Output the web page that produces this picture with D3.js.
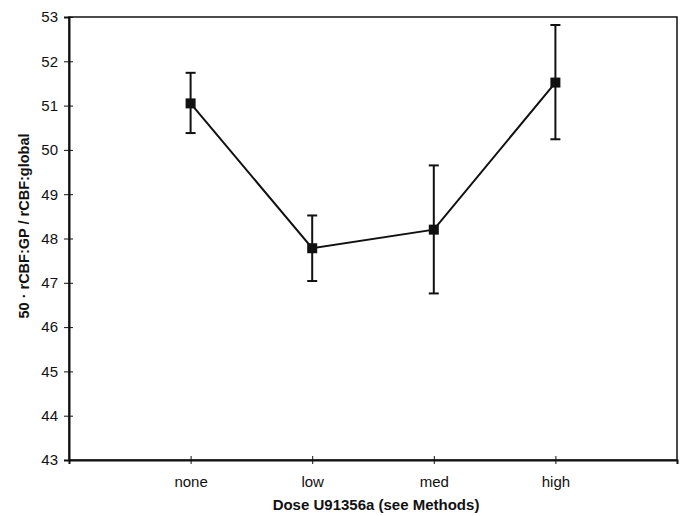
<!DOCTYPE html>
<html>
<head>
<meta charset="utf-8">
<script src="https://cdn.jsdelivr.net/npm/d3@7"></script>
<style>
  body { margin: 0; background: #fff; }
  text { font-family: "Liberation Sans", Arial, sans-serif; fill: #111; }
</style>
</head>
<body>
<div id="chart"></div>
<script>
// values
const doses = ["none", "low", "med", "high"];
const means = [51.05, 47.78, 48.2, 51.52];
const upper = [51.74, 48.52, 49.65, 52.82];
const lower = [50.38, 47.04, 46.76, 50.24];
const yTicks = [43, 44, 45, 46, 47, 48, 49, 50, 51, 52, 53];

const width = 686, height = 516;
const margin = { top: 17, right: 9, bottom: 56, left: 69 };

const svg = d3.select("#chart").append("svg")
    .attr("width", width)
    .attr("height", height);

// category slots 1..4 inside a 0..5 axis, like the original
const x = d3.scaleLinear()
    .domain([0, doses.length + 1])
    .range([margin.left, width - margin.right]);

const y = d3.scaleLinear()
    .domain([43, 53])
    .range([height - margin.bottom, margin.top]);

// plot frame
svg.append("rect")
    .attr("x", margin.left)
    .attr("y", margin.top)
    .attr("width", width - margin.left - margin.right)
    .attr("height", height - margin.top - margin.bottom)
    .attr("fill", "none")
    .attr("stroke", "#111")
    .attr("stroke-width", 1.5);

// y axis
const yAxis = svg.append("g")
    .attr("transform", `translate(${margin.left},0)`)
    .call(d3.axisLeft(y).tickValues(yTicks).tickSize(5).tickPadding(6).tickFormat(d3.format("d")));
yAxis.select(".domain").attr("stroke", "#111").attr("stroke-width", 2);
yAxis.selectAll(".tick line").attr("x2", 4).attr("x1", -5).attr("stroke", "#111");
yAxis.selectAll(".tick text").attr("font-size", 15).attr("fill", "#111")
    .attr("font-family", "Liberation Sans, Arial, sans-serif");

// x axis
const xAxis = svg.append("g")
    .attr("transform", `translate(0,${height - margin.bottom})`)
    .call(d3.axisBottom(x).tickValues(d3.range(1, doses.length + 1))
        .tickFormat(i => doses[i - 1]).tickSize(4).tickPadding(12));
xAxis.select(".domain").attr("stroke", "#111").attr("stroke-width", 2);
xAxis.selectAll(".tick line").attr("y1", -4).attr("y2", 4).attr("stroke", "#111");
xAxis.selectAll(".tick text").attr("font-size", 15).attr("fill", "#111")
    .attr("font-family", "Liberation Sans, Arial, sans-serif");

// axis titles
svg.append("text")
    .attr("x", 376)
    .attr("y", 510)
    .attr("text-anchor", "middle")
    .attr("font-size", 15)
    .attr("font-weight", "bold")
    .text("Dose U91356a (see Methods)");

svg.append("text")
    .attr("transform", "translate(29,226) rotate(-90)")
    .attr("text-anchor", "middle")
    .attr("font-size", 14.5)
    .attr("font-weight", "bold")
    .text("50 · rCBF:GP / rCBF:global");

const pts = doses.map((d, i) => ({ d, i: i + 1, m: means[i], hi: upper[i], lo: lower[i] }));

// error bars
const eb = svg.append("g").attr("stroke", "#111").attr("stroke-width", 2);
eb.selectAll("line.v").data(pts).join("line")
    .attr("x1", p => x(p.i)).attr("x2", p => x(p.i))
    .attr("y1", p => y(p.hi)).attr("y2", p => y(p.lo));
eb.selectAll("line.t").data(pts).join("line")
    .attr("x1", p => x(p.i) - 5).attr("x2", p => x(p.i) + 5)
    .attr("y1", p => y(p.hi)).attr("y2", p => y(p.hi));
eb.selectAll("line.b").data(pts).join("line")
    .attr("x1", p => x(p.i) - 5).attr("x2", p => x(p.i) + 5)
    .attr("y1", p => y(p.lo)).attr("y2", p => y(p.lo));

// connecting line
svg.append("path")
    .datum(pts)
    .attr("fill", "none")
    .attr("stroke", "#111")
    .attr("stroke-width", 2)
    .attr("d", d3.line().x(p => x(p.i)).y(p => y(p.m)));

// square markers
svg.selectAll("rect.mk").data(pts).join("rect")
    .attr("class", "mk")
    .attr("x", p => x(p.i) - 5)
    .attr("y", p => y(p.m) - 5)
    .attr("width", 10)
    .attr("height", 10)
    .attr("fill", "#111");
</script>
</body>
</html>
